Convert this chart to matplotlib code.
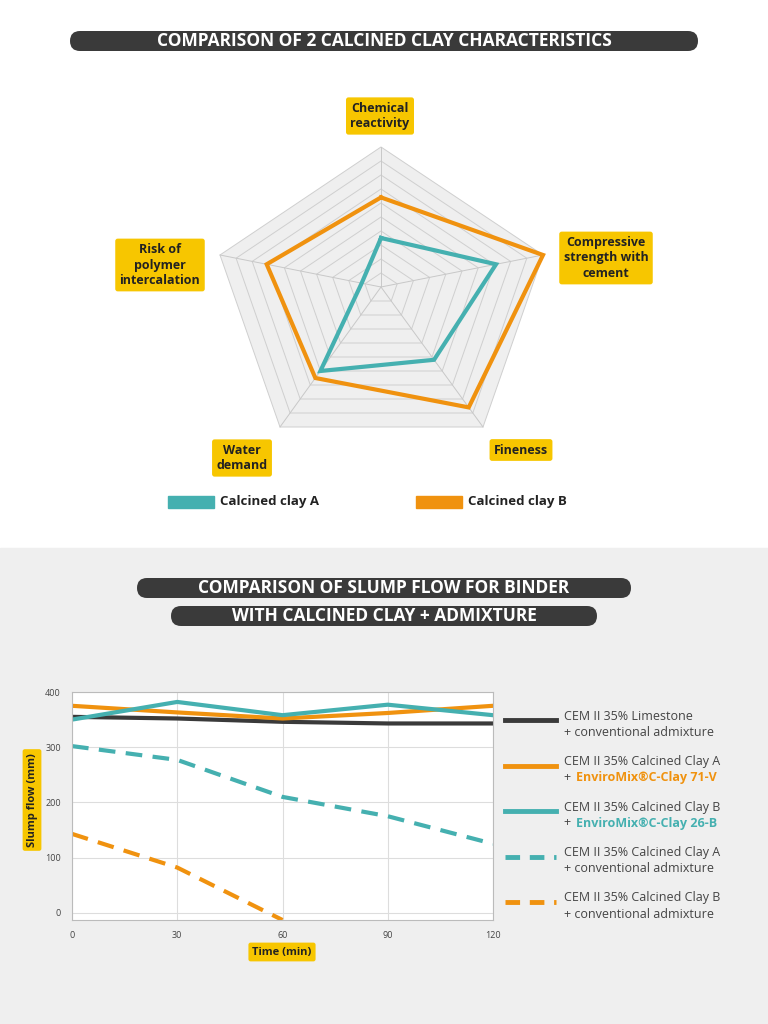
import numpy as np
import matplotlib.pyplot as plt
from matplotlib.patches import FancyBboxPatch, Polygon, Rectangle

plt.rcParams["font.family"] = "Open Sans"

# radar data
radar_axes = ["Chemical\nreactivity", "Compressive\nstrength with\ncement", "Fineness",
              "Water\ndemand", "Risk of\npolymer\nintercalation"]
clay_a = [0.35, 0.71, 0.52, 0.60, 0.12]
clay_b = [0.64, 1.00, 0.86, 0.65, 0.71]

# slump flow data
times = [0, 30, 60, 90, 120]
limestone = [355, 352, 346, 343, 343]
clay_a_71v = [375, 363, 352, 362, 375]
clay_b_26b = [350, 382, 358, 377, 358]
clay_a_conv = [302, 277, 210, 175, 125]
clay_b_conv_t = [0, 30, 60]
clay_b_conv = [143, 82, -13]

TEAL = "#45b0b0"
ORANGE = "#f0920f"
DARK = "#3a3a3a"
YELLOW = "#f7c600"

fig = plt.figure(figsize=(7.68, 10.24), dpi=100)
bg = fig.add_axes([0, 0, 1, 1])
bg.set_xlim(0, 768)
bg.set_ylim(1024, 0)
bg.axis("off")
bg.add_patch(Rectangle((0, 548), 768, 476, color="#efefef", zorder=0))


def pill(x0, x1, y, text):
    bg.add_patch(FancyBboxPatch((x0, y - 10), x1 - x0, 20, boxstyle="round,pad=0,rounding_size=10",
                                fc=DARK, ec="none", zorder=2))
    bg.text((x0 + x1) / 2, y, text, color="white", ha="center", va="center",
            fontsize=12.5, fontweight="bold", zorder=3)


def tag(x, y, text, fs=9):
    bg.text(x, y, text, ha="center", va="center", fontsize=fs, fontweight="bold", color="#222222",
            linespacing=1.25, zorder=5,
            bbox=dict(boxstyle="round,pad=0.35,rounding_size=0.2", fc=YELLOW, ec="none"))


pill(70, 698, 41, "COMPARISON OF 2 CALCINED CLAY CHARACTERISTICS")
pill(137, 631, 588, "COMPARISON OF SLUMP FLOW FOR BINDER")
pill(171, 597, 616, "WITH CALCINED CLAY + ADMIXTURE")

# radar
cx, cy = 381, 287
vecs = np.array([(0, -140), (162, -32), (102, 140), (-101, 140), (-161, -32)], float)
for k in range(10, 0, -1):
    f = k / 10
    bg.add_patch(Polygon(cx + cy * 0 + vecs * f + [0, cy] - [0, 0] if False else np.c_[cx + vecs[:, 0] * f, cy + vecs[:, 1] * f],
                         closed=True, fc="#efefef" if k == 10 else "none", ec="#cfcfcf", lw=0.7, zorder=1))
for v in vecs:
    bg.plot([cx, cx + v[0]], [cy, cy + v[1]], color="#c8c8c8", lw=0.7, zorder=1)


def radar_line(vals, color):
    vals = np.array(vals + vals[:1])
    vv = np.vstack([vecs, vecs[:1]])
    bg.plot(cx + vv[:, 0] * vals, cy + vv[:, 1] * vals, color=color, lw=3, zorder=4,
            solid_joinstyle="miter")


radar_line(clay_a, TEAL)
radar_line(clay_b, ORANGE)

label_pos = [(380, 116), (606, 258), (521, 450), (242, 458), (160, 265)]
for (lx, ly), lab in zip(label_pos, radar_axes):
    tag(lx, ly, lab)

bg.add_patch(Rectangle((168, 496), 46, 12, color=TEAL))
bg.text(220, 502, "Calcined clay A", va="center", fontsize=9.5, fontweight="bold", color="#222222")
bg.add_patch(Rectangle((416, 496), 46, 12, color=ORANGE))
bg.text(468, 502, "Calcined clay B", va="center", fontsize=9.5, fontweight="bold", color="#222222")

# slump flow chart
ax = fig.add_axes([72 / 768, 1 - 920 / 1024, 421 / 768, 228 / 1024])
ax.set_facecolor("white")
ax.plot(times, limestone, color=DARK, lw=3)
ax.plot(times, clay_a_71v, color=ORANGE, lw=3)
ax.plot(times, clay_b_26b, color=TEAL, lw=3)
ax.plot(times, clay_a_conv, color=TEAL, lw=3, ls=(0, (4, 2.5)))
ax.plot(clay_b_conv_t, clay_b_conv, color=ORANGE, lw=3, ls=(0, (4, 2.5)))
ax.set_xlim(0, 120)
ax.set_ylim(-13, 400)
ax.set_xticks(times)
ax.set_yticks([0, 100, 200, 300, 400])
ax.tick_params(labelsize=6.5, colors="#444444", length=0, pad=8)
ax.grid(color="#dddddd", lw=0.8)
for s in ax.spines.values():
    s.set_color("#bbbbbb")
tag(282, 952, "Time (min)", fs=8)
bg.text(32, 800, "Slump flow (mm)", rotation=90, ha="center", va="center", fontsize=8,
        fontweight="bold", color="#222222",
        bbox=dict(boxstyle="round,pad=0.35,rounding_size=0.2", fc=YELLOW, ec="none"))

legend_items = [
    (DARK, "-", "CEM II 35% Limestone", "+ conventional admixture", None),
    (ORANGE, "-", "CEM II 35% Calcined Clay A", "+ ", "EnviroMix®C-Clay 71-V"),
    (TEAL, "-", "CEM II 35% Calcined Clay B", "+ ", "EnviroMix®C-Clay 26-B"),
    (TEAL, "--", "CEM II 35% Calcined Clay A", "+ conventional admixture", None),
    (ORANGE, "--", "CEM II 35% Calcined Clay B", "+ conventional admixture", None),
]
for i, (c, ls, l1, l2, hl) in enumerate(legend_items):
    y = 717 + i * 45.5
    bg.plot([505, 556], [y + 3, y + 3], color=c, lw=3.5, ls=ls if ls == "-" else (0, (3, 2)))
    bg.text(564, y - 1, l1, fontsize=9, color="#444444", va="center")
    bg.text(564, y + 15, l2, fontsize=9, color="#444444", va="center")
    if hl:
        bg.text(576, y + 15, hl, fontsize=9, color=c, fontweight="bold", va="center")

fig.savefig("out.png", dpi=100)
